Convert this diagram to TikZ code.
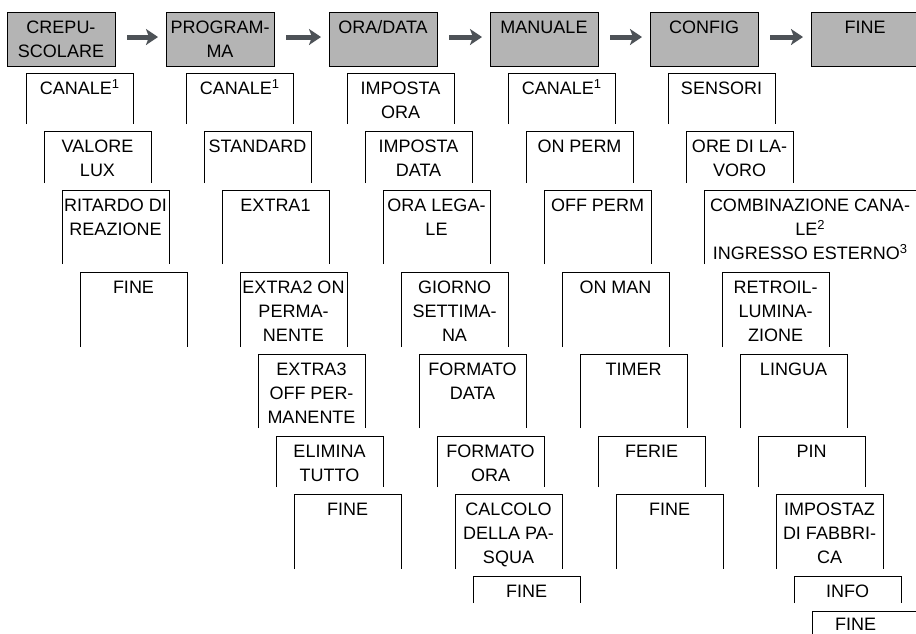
\documentclass[tikz,border=0pt]{standalone}
\usepackage{fontspec}
\setmainfont{Liberation Sans}
\usetikzlibrary{arrows.meta}
\definecolor{topfill}{HTML}{B4B4B4}
\definecolor{arrowc}{HTML}{4D5257}
\newcommand\strutx{\rule{0pt}{18pt}}
\newcommand\spx[1]{\raisebox{6.5pt}{\fontsize{13}{13}\selectfont #1}}
% #1 extra box style, #2 name, #3 left x, #4 top y, #5 height, #6 text
\newcommand\subbox[6][]{%
  \node[sbox, minimum height=#5pt, #1] (#2) at ({#3+53.5},{#4+#5/2}) {};
  \draw[edge] (#2.south west) -- (#2.north west) -- (#2.north east) -- (#2.south east);
  \node[lbl] (#2-t) at ([yshift=-3.5pt]#2.north) {\strutx #6};
}
\begin{document}
\begin{tikzpicture}[x=1pt,y=-1pt,
  topbox/.style={draw=black, line width=1pt, fill=topfill, minimum width=108pt, minimum height=54pt, inner sep=0pt, outer sep=0pt},
  sbox/.style={minimum width=107pt, inner sep=0pt, outer sep=0pt},
  edge/.style={draw=black, line width=1pt},
  lbl/.style={anchor=north, inner sep=0pt, align=center, text=black, font=\fontsize{18}{24}\selectfont},
  flow/.style={draw=arrowc, line width=5pt, -{Stealth[length=12pt,width=16pt,inset=3pt]}, shorten <=12pt, shorten >=8pt}
]
\useasboundingbox (0,0) rectangle (916,633);
\fill[white] (0,0) rectangle (916,633);
\clip (0,0) rectangle (916,633);

% top row
\node[topbox] (t1) at (61,39) {};
\node[topbox] (t2) at (220,39) {};
\node[topbox] (t3) at (383,39) {};
\node[topbox] (t4) at (544,39) {};
\node[topbox] (t5) at (704,39) {};
\node[topbox] (t6) at (865,39) {};
\node[lbl] (t1-t) at ([yshift=-3.5pt]t1.north) {\strutx CREPU-\\SCOLARE};
\node[lbl] (t2-t) at ([yshift=-3.5pt]t2.north) {\strutx PROGRAM-\\MA};
\node[lbl] (t3-t) at ([yshift=-3.5pt]t3.north) {\strutx ORA/DATA};
\node[lbl] (t4-t) at ([yshift=-3.5pt]t4.north) {\strutx MANUALE};
\node[lbl] (t5-t) at ([yshift=-3.5pt]t5.north) {\strutx CONFIG};
\node[lbl] (t6-t) at ([yshift=-3.5pt]t6.north) {\strutx FINE};

\draw[flow] ([yshift=2pt]t1.east) -- ([yshift=2pt]t2.west);
\draw[flow] ([yshift=2pt]t2.east) -- ([yshift=2pt]t3.west);
\draw[flow] ([yshift=2pt]t3.east) -- ([yshift=2pt]t4.west);
\draw[flow] ([yshift=2pt]t4.east) -- ([yshift=2pt]t5.west);
\draw[flow] ([yshift=2pt]t5.east) -- ([yshift=2pt]t6.west);

% column 1
\subbox{c1r1}{26}{73}{51}{CANALE\spx{1}}
\subbox{c1r2}{44}{131}{52}{VALORE\\LUX}
\subbox{c1r3}{62}{190}{74}{RITARDO DI\\REAZIONE}
\subbox{c1r4}{80}{272}{75}{FINE}

% column 2
\subbox{c2r1}{186}{73}{51}{CANALE\spx{1}}
\subbox{c2r2}{204}{131}{52}{STANDARD}
\subbox{c2r3}{222}{190}{74}{EXTRA1}
\subbox{c2r4}{240}{272}{75}{EXTRA2 ON\\PERMA-\\NENTE}
\subbox{c2r5}{258}{354}{74}{EXTRA3\\OFF PER-\\MANENTE}
\subbox{c2r6}{276}{436}{51}{ELIMINA\\TUTTO}
\subbox{c2r7}{294}{494}{75}{FINE}

% column 3
\subbox{c3r1}{347}{73}{51}{IMPOSTA\\ORA}
\subbox{c3r2}{365}{131}{52}{IMPOSTA\\DATA}
\subbox{c3r3}{383}{190}{74}{ORA LEGA-\\LE}
\subbox{c3r4}{401}{272}{75}{GIORNO\\SETTIMA-\\NA}
\subbox{c3r5}{419}{354}{74}{FORMATO\\DATA}
\subbox{c3r6}{437}{436}{51}{FORMATO\\ORA}
\subbox{c3r7}{455}{494}{75}{CALCOLO\\DELLA PA-\\SQUA}
\subbox{c3r8}{473}{576}{27}{FINE}

% column 4
\subbox{c4r1}{508}{73}{51}{CANALE\spx{1}}
\subbox{c4r2}{526}{131}{52}{ON PERM}
\subbox{c4r3}{544}{190}{74}{OFF PERM}
\subbox{c4r4}{562}{272}{75}{ON MAN}
\subbox{c4r5}{580}{354}{74}{TIMER}
\subbox{c4r6}{598}{436}{51}{FERIE}
\subbox{c4r7}{616}{494}{75}{FINE}

% column 5
\subbox{c5r1}{668}{73}{51}{SENSORI}
\subbox{c5r2}{686}{131}{52}{ORE DI LA-\\VORO}
\node[sbox, minimum width=212pt, minimum height=74pt] (c5r3) at (810,227) {};
\draw[edge] (c5r3.south west) -- (c5r3.north west) -- (c5r3.north east) -- (c5r3.south east);
\node[lbl] (c5r3-t) at ([yshift=-3.5pt]c5r3.north) {\strutx COMBINAZIONE CANA-\\LE\spx{2}\\INGRESSO ESTERNO\spx{3}};
\subbox{c5r4}{722}{272}{75}{RETROIL-\\LUMINA-\\ZIONE}
\subbox{c5r5}{740}{354}{74}{LINGUA}
\subbox{c5r6}{758}{436}{51}{PIN}
\subbox{c5r7}{776}{494}{75}{IMPOSTAZ\\DI FABBRI-\\CA}
\subbox{c5r8}{794}{576}{27}{INFO}
\node[sbox, minimum height=30pt] (c5r9) at (865.5,626) {};
\draw[edge] (c5r9.south west) -- (c5r9.north west) -- (c5r9.north east) -- (c5r9.south east);
\node[lbl] (c5r9-t) at ([xshift=-10pt,yshift=-1.5pt]c5r9.north) {\strutx FINE};
\end{tikzpicture}
\end{document}
